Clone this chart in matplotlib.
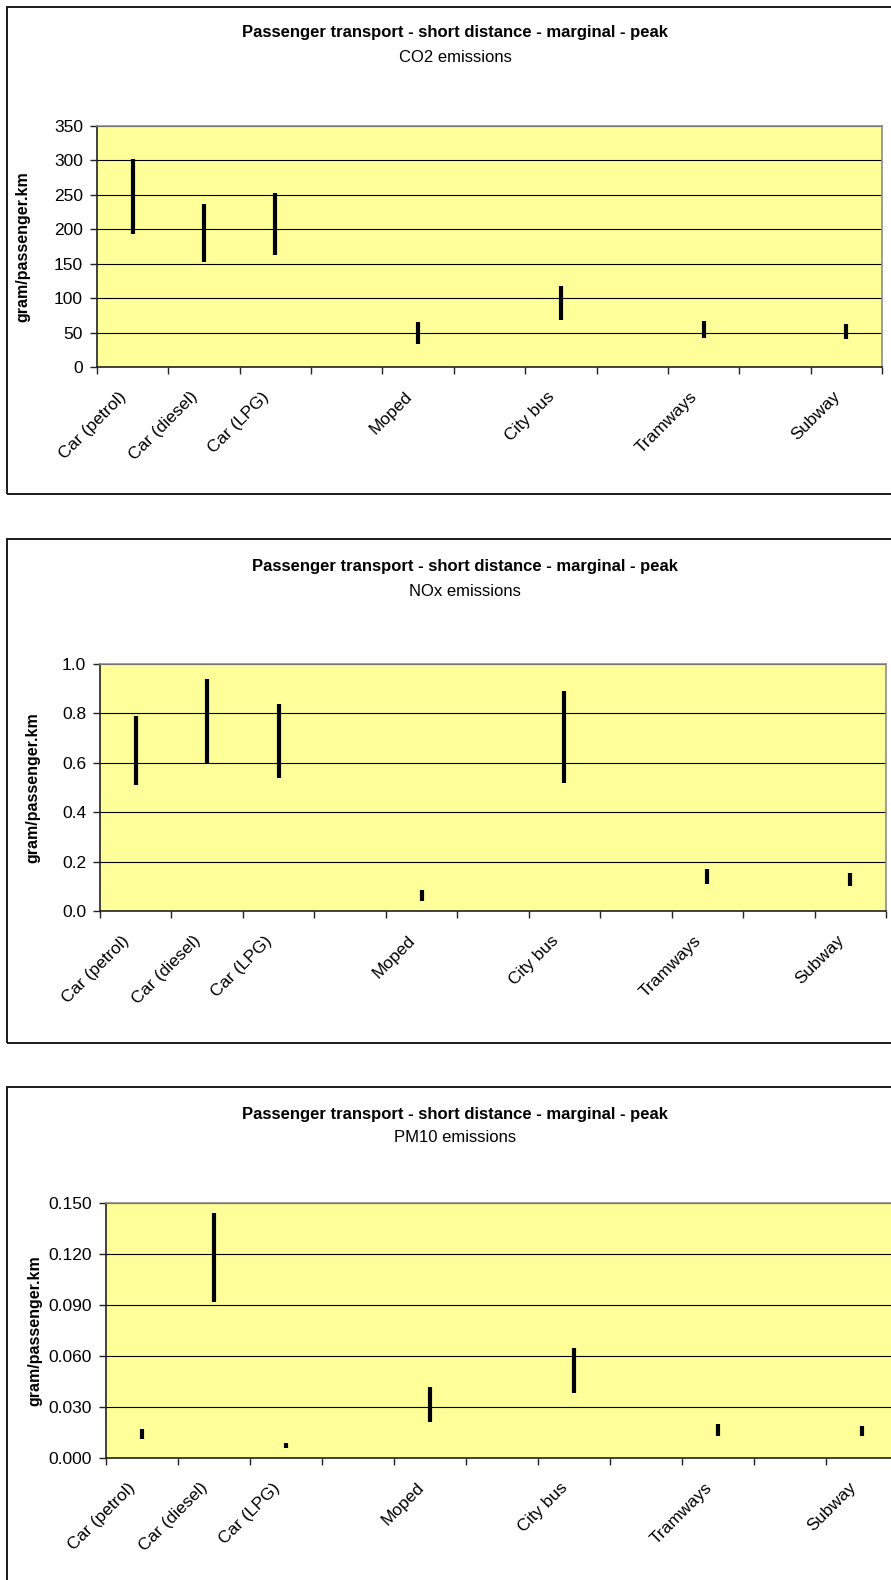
import matplotlib
matplotlib.use("Agg")
import matplotlib.pyplot as plt
from matplotlib.patches import Rectangle
from matplotlib.transforms import ScaledTranslation
from matplotlib.ticker import FormatStrFormatter, MultipleLocator, FixedLocator, NullFormatter

plt.rcParams['font.family'] = ['Liberation Sans', 'DejaVu Sans']

W, H = 891, 1580

# category slots; empty strings keep the gaps between groups
categories = ['Car (petrol)', 'Car (diesel)', 'Car (LPG)', '', 'Moped', '',
              'City bus', '', 'Tramways', '', 'Subway']

title = 'Passenger transport - short distance - marginal - peak'

co2_high = [302, 237, 252, None, 66, None, 117, None, 67, None, 62]
co2_low = [193, 152, 162, None, 33, None, 68, None, 42, None, 40]

nox_high = [0.79, 0.94, 0.84, None, 0.085, None, 0.89, None, 0.17, None, 0.155]
nox_low = [0.51, 0.60, 0.54, None, 0.04, None, 0.52, None, 0.11, None, 0.10]

pm10_high = [0.017, 0.144, 0.009, None, 0.042, None, 0.065, None, 0.020, None, 0.019]
pm10_low = [0.011, 0.092, 0.006, None, 0.021, None, 0.038, None, 0.013, None, 0.013]

# (subtitle, highs, lows, ymax, ystep, fmt,
#  box px, plot px, title center px, ylabel x px)
panels = [
    ('CO2 emissions', co2_high, co2_low, 350, 50, '%d',
     (7, 7, 920, 494), (97, 126, 882, 367), (455, 32, 57), 23),
    ('NOx emissions', nox_high, nox_low, 1.0, 0.2, '%.1f',
     (7, 539, 920, 1043), (100, 664, 886, 911), (465, 567, 592), 33),
    ('PM10 emissions', pm10_high, pm10_low, 0.150, 0.030, '%.3f',
     (7, 1087, 920, 1620), (106, 1203, 898, 1458), (455, 1114, 1138), 35),
]


def fx(x):
    return x / W


def fy(y):
    return 1 - y / H


fig = plt.figure(figsize=(W / 100, H / 100), dpi=100)
fig.patch.set_facecolor('white')

# slanted category labels hang below and slightly left of their slot centre
label_shift = ScaledTranslation(-14 / 100, -22 / 100, fig.dpi_scale_trans)

for (sub, highs, lows, ymax, ystep, fmt, box, plot, tpos, ylx) in panels:
    bx0, by0, bx1, by1 = box
    fig.patches.append(Rectangle((fx(bx0), fy(by1)), fx(bx1 - bx0), (by1 - by0) / H,
                                 transform=fig.transFigure, fill=False,
                                 edgecolor='#1a1a1a', lw=1.4, zorder=0))

    px0, py0, px1, py1 = plot
    ax = fig.add_axes([fx(px0), fy(py1), fx(px1 - px0), (py1 - py0) / H])
    ax.set_facecolor('#FFFF99')
    ax.set_xlim(0, len(categories))
    ax.set_ylim(0, ymax)

    xs = [i + 0.5 for i, h in enumerate(highs) if h is not None]
    hi = [h for h in highs if h is not None]
    lo = [l for l in lows if l is not None]
    lc = ax.vlines(xs, lo, hi, colors='black', lw=3.0, zorder=3)
    lc.set_capstyle('butt')

    ax.yaxis.set_major_locator(MultipleLocator(ystep))
    ax.yaxis.set_major_formatter(FormatStrFormatter(fmt))
    ax.grid(axis='y', color='black', lw=0.8, zorder=1)
    ax.set_axisbelow(True)

    # ticks at the slot boundaries, labels drawn separately
    ax.xaxis.set_major_locator(FixedLocator(range(len(categories) + 1)))
    ax.xaxis.set_major_formatter(NullFormatter())
    ax.tick_params(axis='x', length=5, width=1, color='#222222')
    ax.tick_params(axis='y', length=5, width=1, color='#222222', labelsize=12.5, pad=5)

    lbl_trans = ax.get_xaxis_transform() + label_shift
    for i, name in enumerate(categories):
        if name:
            ax.text(i + 0.5, 0, name, transform=lbl_trans, rotation=45,
                    rotation_mode='anchor', ha='right', va='top',
                    fontsize=12.5, clip_on=False)

    for side in ('left', 'bottom'):
        ax.spines[side].set_color('#222222')
        ax.spines[side].set_linewidth(1.2)
    for side in ('top', 'right'):
        ax.spines[side].set_color('#8c8c8c')
        ax.spines[side].set_linewidth(1.2)

    tx, ty, sy = tpos
    fig.text(fx(tx), fy(ty), title, ha='center', va='center',
             fontsize=12, fontweight='bold')
    fig.text(fx(tx), fy(sy), sub, ha='center', va='center', fontsize=12)

    fig.text(fx(ylx), fy((py0 + py1) / 2), 'gram/passenger.km', rotation=90,
             ha='center', va='center', fontsize=11.5, fontweight='bold')

fig.savefig('out.png', dpi=100)
